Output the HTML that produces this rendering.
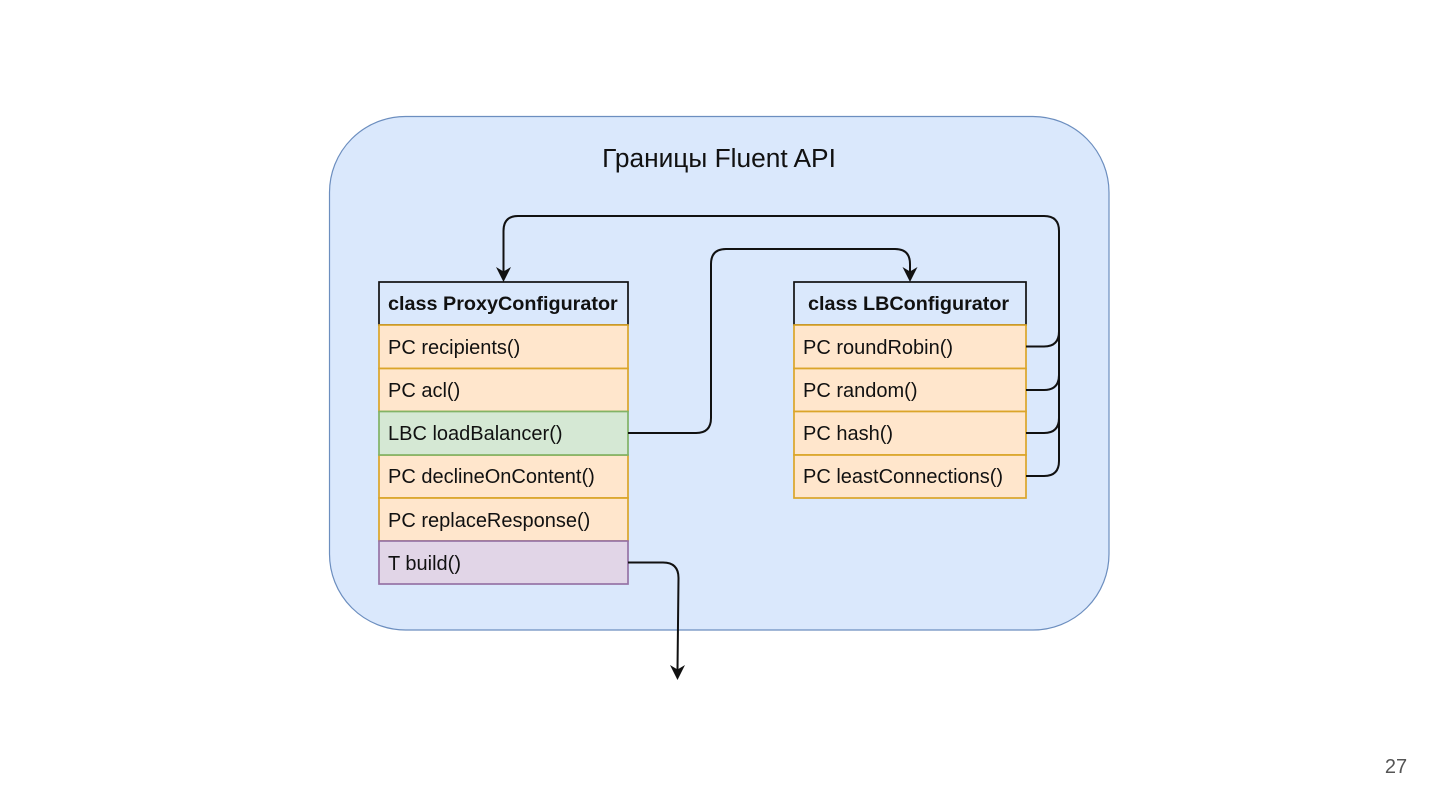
<!DOCTYPE html>
<html lang="ru">
<head>
<meta charset="utf-8">
<style>
html,body{margin:0;padding:0;background:#fff;width:1440px;height:810px;overflow:hidden}
svg{display:block}
text{font-family:"Liberation Sans","Noto Sans CJK SC",sans-serif;fill:#111}
.m{font-size:20px}
.b{font-size:19.8px;font-weight:bold}
</style>
</head>
<body>
<svg width="1440" height="810" viewBox="0 0 1440 810" xmlns="http://www.w3.org/2000/svg">
<rect x="329.5" y="116.5" width="779.5" height="513.5" rx="76" ry="76" fill="#dae8fc" stroke="#6c8ebf" stroke-width="1.2"/>
<text x="719" y="167" text-anchor="middle" font-size="26.3">Границы Fluent API</text>

<g stroke-width="1.7">
<rect x="379" y="282" width="249" height="43" fill="#dae8fc" stroke="#111"/>
<rect x="379" y="325" width="249" height="43.5" fill="#ffe6cc" stroke="#dba52a"/>
<rect x="379" y="368.5" width="249" height="43" fill="#ffe6cc" stroke="#dba52a"/>
<rect x="379" y="455" width="249" height="43" fill="#ffe6cc" stroke="#dba52a"/>
<rect x="379" y="498" width="249" height="43" fill="#ffe6cc" stroke="#dba52a"/>
<rect x="379" y="411.5" width="249" height="43.5" fill="#d5e8d4" stroke="#82b366"/>
<rect x="379" y="541" width="249" height="43" fill="#e1d5e7" stroke="#9673a6"/>

<rect x="794" y="282" width="232" height="43" fill="#dae8fc" stroke="#111"/>
<rect x="794" y="325" width="232" height="43.5" fill="#ffe6cc" stroke="#dba52a"/>
<rect x="794" y="368.5" width="232" height="43" fill="#ffe6cc" stroke="#dba52a"/>
<rect x="794" y="411.5" width="232" height="43.5" fill="#ffe6cc" stroke="#dba52a"/>
<rect x="794" y="455" width="232" height="43" fill="#ffe6cc" stroke="#dba52a"/>
</g>

<text class="b" x="388" y="310">class ProxyConfigurator</text>
<text class="m" x="388" y="354">PC recipients()</text>
<text class="m" x="388" y="397">PC acl()</text>
<text class="m" x="388" y="440">LBC loadBalancer()</text>
<text class="m" x="388" y="483">PC declineOnContent()</text>
<text class="m" x="388" y="527">PC replaceResponse()</text>
<text class="m" x="388" y="570">T build()</text>

<text class="b" x="808" y="310">class LBConfigurator</text>
<text class="m" x="803" y="354">PC roundRobin()</text>
<text class="m" x="803" y="397">PC random()</text>
<text class="m" x="803" y="440">PC hash()</text>
<text class="m" x="803" y="483">PC leastConnections()</text>

<g fill="none" stroke="#111" stroke-width="2">
<path d="M1026 346.5H1044Q1059 346.5 1059 331.5V231Q1059 216 1044 216H518Q503.500 216 503.500 231V272"/>
<path d="M1026 390H1044Q1059 390 1059 375V331"/>
<path d="M1026 433H1044Q1059 433 1059 418V375"/>
<path d="M1026 476H1044Q1059 476 1059 461V418"/>
<path d="M628 433H696Q711 433 711 418V264Q711 249 726 249H895Q910 249 910 264V272"/>
<path d="M628 562.500H663Q678.500 562.500 678.500 578L677.500 670"/>
</g>
<g fill="#111">
<path d="M503.500 282L496 267L503.500 271.500L511 267Z"/>
<path d="M910 282L902.500 267L910 271.500L917.500 267Z"/>
<path d="M677.500 680L670 665L677.500 669.500L685 665Z"/>
</g>
<text x="1396" y="773" text-anchor="middle" font-size="20" style="fill:#555">27</text>
</svg>
</body>
</html>
